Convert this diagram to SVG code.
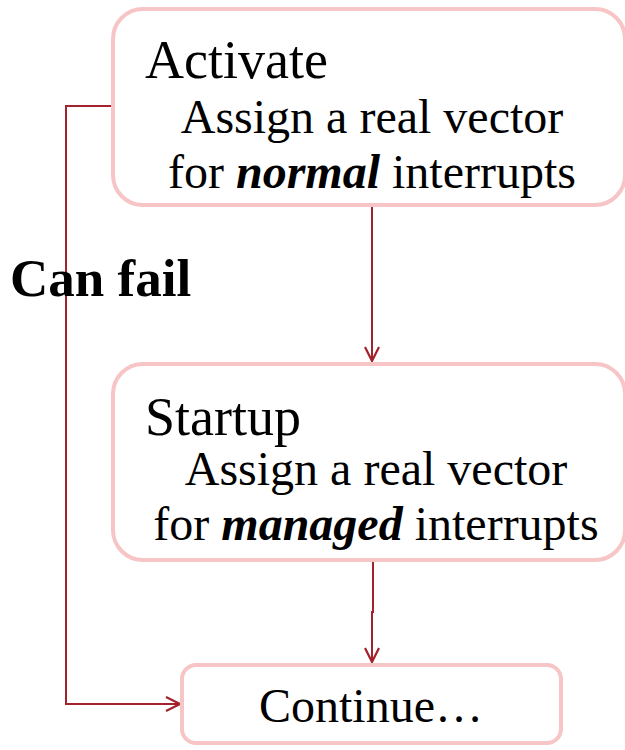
<svg xmlns="http://www.w3.org/2000/svg" width="625" height="750" viewBox="0 0 625 750">
  <style>
    .box { fill: #ffffff; stroke: #f7c5c5; stroke-width: 4; }
    .t { font-family: "Liberation Serif", "Times New Roman", serif; fill: #000; }
    .title { font-size: 54px; }
    .body { font-size: 48px; text-anchor: middle; }
    .em { font-weight: bold; font-style: italic; }
    .wire { fill: none; stroke: #a3222b; stroke-width: 2; }
  </style>
  <defs>
    <marker id="arrow" viewBox="0 0 16 16" refX="15" refY="8" markerWidth="16" markerHeight="16" markerUnits="userSpaceOnUse" orient="auto">
      <polyline points="1,1 15,8 1,15" fill="none" stroke="#a3222b" stroke-width="2.2"/>
    </marker>
  </defs>

  <g id="connectors">
    <path class="wire" d="M113,106 H66 V704 H180" marker-end="url(#arrow)"/>
    <path class="wire" d="M372,205 V361" marker-end="url(#arrow)"/>
    <path class="wire" d="M373,560 V612 H372 V662" marker-end="url(#arrow)"/>
  </g>

  <g id="activate">
    <rect class="box" x="113" y="9" width="512" height="196" rx="30"/>
    <text class="t title" x="145" y="78">Activate</text>
    <text class="t body" x="372" y="133">Assign a real vector</text>
    <text class="t body" x="372" y="188">for <tspan class="em">normal</tspan> interrupts</text>
  </g>

  <g id="startup">
    <rect class="box" x="113" y="364" width="512" height="196" rx="30"/>
    <text class="t title" x="145" y="435">Startup</text>
    <text class="t body" x="376" y="485">Assign a real vector</text>
    <text class="t body" x="376" y="540">for <tspan class="em">managed</tspan> interrupts</text>
  </g>

  <g id="continue">
    <rect class="box" x="182" y="665" width="379" height="78" rx="14"/>
    <text class="t body" x="371" y="722">Continue…</text>
  </g>

  <g id="fail-label">
    <text class="t" x="10" y="296" font-size="53" font-weight="bold">Can fail</text>
  </g>
</svg>
